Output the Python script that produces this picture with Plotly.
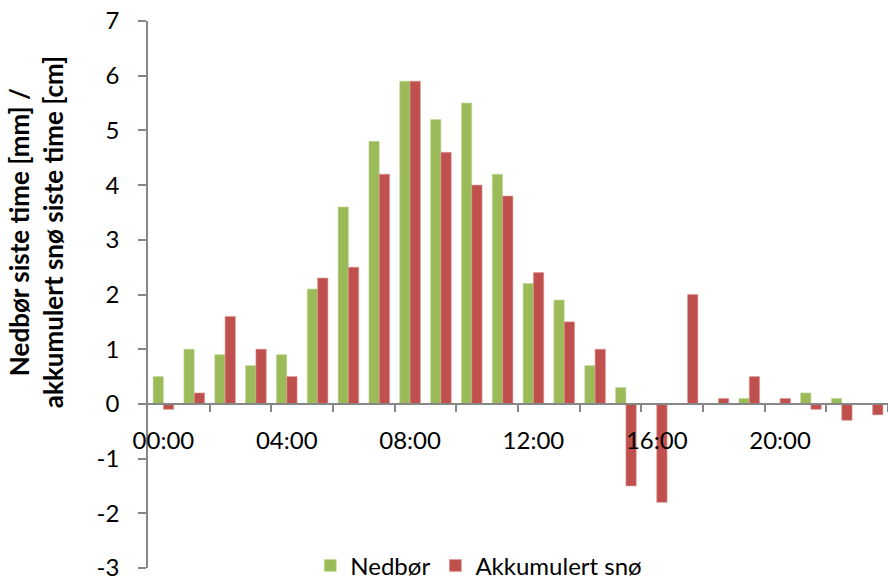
import plotly.graph_objects as go

# Hourly values
hours = [f"{h:02d}:00" for h in range(24)]
nedbor = [0.5, 1.0, 0.9, 0.7, 0.9, 2.1, 3.6, 4.8, 5.9, 5.2, 5.5, 4.2,
          2.2, 1.9, 0.7, 0.3, 0.0, 0.0, 0.0, 0.1, 0.0, 0.2, 0.1, 0.0]
sno = [-0.1, 0.2, 1.6, 1.0, 0.5, 2.3, 2.5, 4.2, 5.9, 4.6, 4.0, 3.8,
       2.4, 1.5, 1.0, -1.5, -1.8, 2.0, 0.1, 0.5, 0.1, -0.1, -0.3, -0.2]
y_ticks = list(range(-3, 8))
label_every = 4
tick_every = 2

FONT = "Lato"
AXIS_COLOR = "#878787"
idx = list(range(len(hours)))

fig = go.Figure()
fig.add_trace(go.Bar(x=idx, y=nedbor, name="Nedbør",
                     marker=dict(color="#9BBB59", line=dict(color="#C4D99A", width=0.6))))
fig.add_trace(go.Bar(x=idx, y=sno, name="Akkumulert snø",
                     marker=dict(color="#C0504D", line=dict(color="#DE9A98", width=0.6))))

ymin, ymax = y_ticks[0], y_ticks[-1]
zero_pos = (0 - ymin) / (ymax - ymin)

fig.update_layout(
    width=888, height=583,
    margin=dict(l=148, r=0, t=21, b=15, autoexpand=False),
    plot_bgcolor="white", paper_bgcolor="white",
    barmode="group", bargap=0.33, bargroupgap=0,
    font=dict(family=FONT, size=24, color="black"),
    showlegend=True,
    legend=dict(orientation="h", x=0.447, xanchor="center", y=0.004, yanchor="middle",
                font=dict(family=FONT, size=24), itemwidth=30,
                bgcolor="rgba(0,0,0,0)"),
    xaxis=dict(
        range=[-0.5, len(hours) - 0.5],
        tickmode="array",
        tickvals=idx[::label_every],
        ticktext=hours[::label_every],
        ticks="", showline=False, showgrid=False, zeroline=False,
        anchor="free", position=zero_pos,
        tickfont=dict(family=FONT, size=24),
        ticklabelstandoff=20,
    ),
    xaxis2=dict(
        range=[-0.5, len(hours) - 0.5],
        overlaying="x",
        tickmode="array",
        tickvals=[i + 0.5 for i in idx[1::tick_every]],
        showticklabels=False,
        ticks="outside", ticklen=7, tickwidth=1.5, tickcolor=AXIS_COLOR,
        showline=True, linecolor=AXIS_COLOR, linewidth=1.5,
        showgrid=False, zeroline=False,
        anchor="free", position=zero_pos, side="bottom",
    ),
    yaxis=dict(
        range=[ymin, ymax],
        tickmode="array", tickvals=y_ticks, ticktext=[str(v) for v in y_ticks],
        ticks="outside", ticklen=8, tickwidth=1.5, tickcolor=AXIS_COLOR,
        showline=True, linecolor=AXIS_COLOR, linewidth=1.5,
        showgrid=False, zeroline=False,
        tickfont=dict(family=FONT, size=24),
        ticklabelstandoff=14,
    ),
)

# invisible trace to activate the tick-mark axis
fig.add_trace(go.Scatter(x=[0], y=[0], xaxis="x2", mode="markers",
                         marker=dict(opacity=0), showlegend=False, hoverinfo="skip"))

fig.add_annotation(
    text="<b>Nedbør siste time [mm] /<br>akkumulert snø siste time [cm]</b>",
    xref="paper", yref="paper", x=-0.152, y=0.613,
    xanchor="center", yanchor="middle", textangle=-90, showarrow=False,
    font=dict(family=FONT, size=26, color="black"),
)

fig.write_html("out.html")
